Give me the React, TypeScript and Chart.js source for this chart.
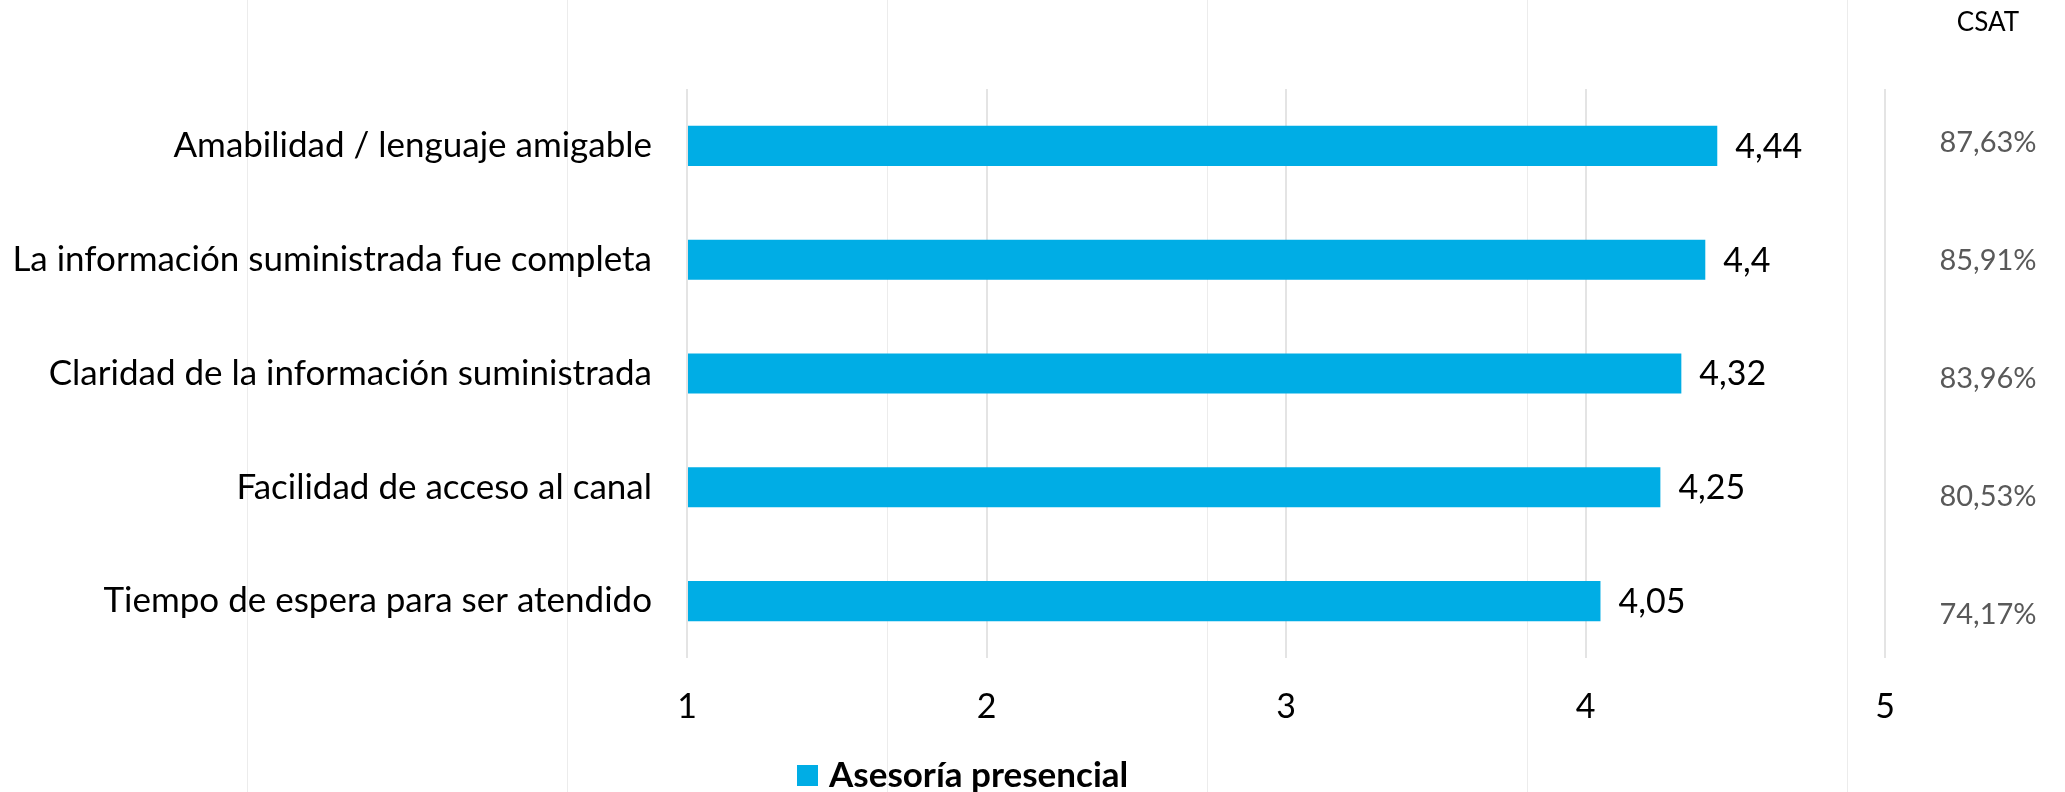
import React, { useEffect, useRef } from 'react';
import { Chart, registerables } from 'chart.js';

Chart.register(...registerables);

// ---- data ----
const categories = [
  'Amabilidad / lenguaje amigable',
  'La información suministrada fue completa',
  'Claridad de la información suministrada',
  'Facilidad de acceso al canal',
  'Tiempo de espera para ser atendido',
];
const seriesLabel = 'Asesoría presencial';
const scores = [4.44, 4.4, 4.32, 4.25, 4.05];
const csatHeader = 'CSAT';
const csatValues = [87.63, 85.91, 83.96, 80.53, 74.17];
const xMin = 1;
const xMax = 5;

const FONT = 'Lato, "Open Sans", sans-serif';
const BAR_COLOR = '#00ADE5';

const fmt = (v: number, d?: number) =>
  (d === undefined ? String(v) : v.toFixed(d)).replace('.', ',');

const overlayPlugin = {
  id: 'overlay',
  afterDatasetsDraw(chart: any) {
    const ctx = chart.ctx as CanvasRenderingContext2D;
    const meta = chart.getDatasetMeta(0);
    ctx.save();
    // value labels
    ctx.font = `34px ${FONT}`;
    ctx.fillStyle = '#000000';
    ctx.textAlign = 'left';
    ctx.textBaseline = 'middle';
    meta.data.forEach((bar: any, i: number) => {
      ctx.fillText(fmt(scores[i]), bar.x + 18, bar.y + 1);
    });

    // CSAT column
    const cx = chart.width - 77;
    ctx.textAlign = 'center';
    ctx.font = `26px ${FONT}`;
    ctx.fillStyle = '#000000';
    ctx.fillText(csatHeader, cx, 23);
    ctx.font = `29px ${FONT}`;
    ctx.fillStyle = '#595959';
    const rowTop = 84;
    const rowH = 118;
    csatValues.forEach((v, i) => {
      ctx.fillText(fmt(v, 2) + '%', cx, rowTop + rowH * (i + 0.5));
    });

    // legend
    const ds = chart.data.datasets[0];
    ctx.fillStyle = ds.backgroundColor;
    ctx.fillRect(797, 765, 21, 21);
    ctx.fillStyle = '#000000';
    ctx.textAlign = 'left';
    ctx.font = `bold 35px ${FONT}`;
    ctx.fillText(ds.label, 829, 776);
    ctx.restore();
  },
};

export default function App() {
  const canvasRef = useRef<HTMLCanvasElement | null>(null);

  useEffect(() => {
    const canvas = canvasRef.current;
    if (!canvas) return;
    const chart = new Chart(canvas, {
      type: 'bar',
      data: {
        labels: categories,
        datasets: [
          {
            label: seriesLabel,
            data: scores,
            backgroundColor: BAR_COLOR,
            borderWidth: 0,
            base: xMin,
            categoryPercentage: 1,
            barPercentage: 0.352,
          } as any,
        ],
      },
      options: {
        indexAxis: 'y',
        animation: false,
        responsive: false,
        maintainAspectRatio: false,
        layout: { padding: { top: 89, right: 180, bottom: 64, left: 0 } },
        plugins: {
          legend: { display: false },
          tooltip: { enabled: false },
          title: { display: false },
        },
        scales: {
          x: {
            type: 'linear',
            position: 'bottom',
            min: xMin,
            max: xMax,
            ticks: {
              stepSize: 1,
              color: '#000000',
              font: { family: FONT, size: 34 },
              padding: 29,
            },
            grid: { color: '#e4e4e4', lineWidth: 2, drawTicks: false },
            border: { display: false },
            afterFit: (scale: any) => {
              scale.height = 70;
            },
          },
          y: {
            type: 'category',
            ticks: {
              color: '#000000',
              font: { family: FONT, size: 35 },
              padding: 35,
            },
            grid: { display: false, drawTicks: false },
            border: { display: false },
            afterFit: (scale: any) => {
              scale.width = 687;
            },
          },
        },
      },
      plugins: [overlayPlugin],
    });
    return () => chart.destroy();
  }, []);

  return (
    <div
      style={{
        position: 'fixed',
        left: 0,
        top: 0,
        width: 2065,
        height: 792,
        background: '#ffffff',
        backgroundImage:
          'linear-gradient(to right, #ececec 0px, #ececec 1.5px, transparent 1.5px, transparent 320px)',
        backgroundSize: '320px 100%',
        backgroundPosition: '247px 0',
      }}
    >
      <canvas ref={canvasRef} width={2065} height={792} style={{ display: 'block' }} />
    </div>
  );
}
